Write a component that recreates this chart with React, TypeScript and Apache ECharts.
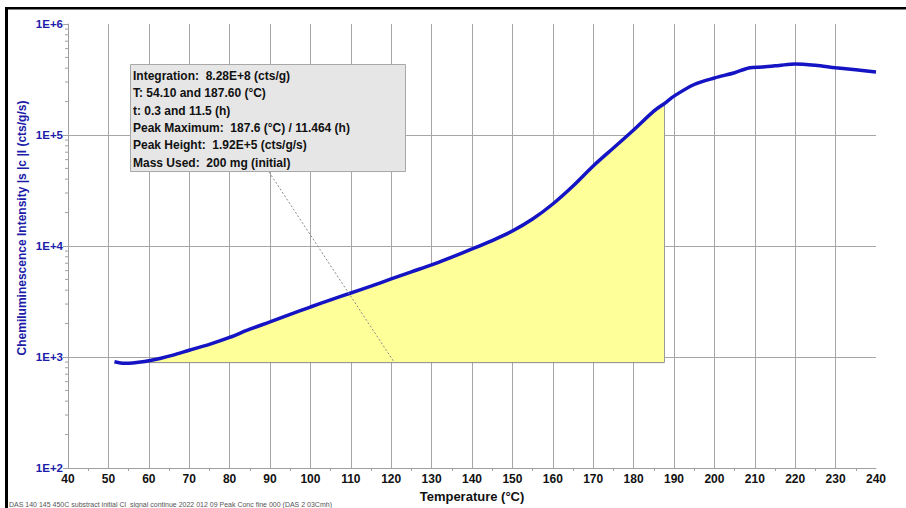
import React, { useEffect, useRef } from 'react';
import * as echarts from 'echarts';

// Curve: temperature (°C) vs chemiluminescence intensity (cts/g/s)
const temperature = [51.5, 53, 54.1, 56, 58, 60, 63, 66, 70, 75, 80, 85, 90, 95, 100, 105, 110, 115, 120, 125, 130, 135, 140, 145, 150, 155, 160, 165, 170, 175, 180, 185, 187.6, 190, 195, 200, 205, 208.5, 212, 216, 220, 225, 230, 235, 240];
const intensity = [905, 885, 880, 885, 900, 925, 975, 1040, 1150, 1300, 1500, 1780, 2070, 2420, 2820, 3270, 3770, 4350, 5050, 5850, 6750, 7950, 9400, 11200, 13650, 17500, 23900, 34700, 52600, 76400, 111000, 164000, 192000, 224000, 285000, 326000, 364000, 402000, 410000, 423000, 437000, 425000, 404000, 387000, 370000];

// Integration window and baseline
const integrationStart = 54.1;
const integrationEnd = 187.6;
const baselineValue = 890;
const peakHeight = 192000;

// Axis ticks
const xTicks = [40, 50, 60, 70, 80, 90, 100, 110, 120, 130, 140, 150, 160, 170, 180, 190, 200, 210, 220, 230, 240];
const yDecades = [100, 1000, 10000, 100000, 1000000];
const minorMultipliers = [2, 3, 4, 5, 6, 7, 8, 9];

const annotationLines = [
  'Integration:  8.28E+8 (cts/g)',
  'T: 54.10 and 187.60 (°C)',
  't: 0.3 and 11.5 (h)',
  'Peak Maximum:  187.6 (°C) / 11.464 (h)',
  'Peak Height:  1.92E+5 (cts/g/s)',
  'Mass Used:  200 mg (initial)',
];

const yAxisTitle = 'Chemiluminescence Intensity |s |c |l (cts/g/s)';
const xAxisTitle = 'Temperature (°C)';
const footerText = 'DAS 140 145 450C substract initial Cl  signal continue 2022 012 09 Peak Conc fine 000 (DAS 2 03Cmh)';

const FONT = '"Liberation Sans", Arial, sans-serif';
const BLUE = '#1c1ca8';
const AXIS_GREY = '#a0a0a0';

export default function App() {
  const ref = useRef<HTMLDivElement>(null);

  useEffect(() => {
    if (!ref.current) return;
    const chart = echarts.init(ref.current, undefined, { renderer: 'svg' });

    const curve = temperature.map((t, i) => [t, intensity[i]]);
    const fillPts = temperature
      .map((t, i) => [t, intensity[i]])
      .filter((p) => p[0] >= integrationStart && p[0] <= integrationEnd);

    const minorValues: number[][] = [];
    yDecades.slice(0, -1).forEach((d) => {
      minorMultipliers.forEach((m) => minorValues.push([xTicks[0], m * d]));
    });

    const graphics: any[] = [
      { type: 'rect', z: 50, shape: { x: 5, y: 7, width: 3, height: 501 }, style: { fill: '#000' } },
      { type: 'rect', z: 50, shape: { x: 5, y: 7, width: 901, height: 2.5 }, style: { fill: '#000' } },
      {
        type: 'line', z: 40,
        shape: { x1: 269, y1: 172, x2: 394, y2: 362 },
        style: { stroke: '#8a8a8a', lineWidth: 1, lineDash: [2, 2] },
      },
      {
        type: 'rect', z: 41,
        shape: { x: 130.5, y: 64.5, width: 275, height: 107 },
        style: { fill: '#e6e6e6', stroke: '#a8a8a8', lineWidth: 1 },
      },
      ...annotationLines.map((line, i) => ({
        type: 'text', z: 42,
        x: 133, y: 76 + i * 17.35,
        style: {
          text: line, fill: '#111', font: `bold 12px ${FONT}`,
          textAlign: 'left', textVerticalAlign: 'middle',
        },
      })),
      {
        type: 'text', z: 42,
        x: 22, y: 228, rotation: Math.PI / 2,
        style: {
          text: yAxisTitle, fill: BLUE, font: `bold 12px ${FONT}`,
          textAlign: 'center', textVerticalAlign: 'middle',
        },
      },
      {
        type: 'text', z: 42,
        x: 9, y: 504,
        style: {
          text: footerText, fill: '#555', font: `7px ${FONT}`,
          textAlign: 'left', textVerticalAlign: 'middle',
        },
      },
    ];

    chart.setOption({
      animation: false,
      backgroundColor: '#fff',
      grid: { left: 68, right: 30, top: 24, bottom: 40, containLabel: false },
      xAxis: {
        type: 'value',
        min: xTicks[0],
        max: xTicks[xTicks.length - 1],
        interval: 10,
        name: xAxisTitle,
        nameLocation: 'middle',
        nameGap: 20,
        nameTextStyle: { color: '#111', fontWeight: 'bold', fontSize: 13, fontFamily: FONT },
        axisLine: { show: true, lineStyle: { color: AXIS_GREY, width: 1 } },
        axisTick: { show: false },
        minorTick: { show: true, splitNumber: 2, length: 3, lineStyle: { color: AXIS_GREY } },
        axisLabel: { color: '#111', fontWeight: 'bold', fontSize: 12, fontFamily: FONT, margin: 5 },
        splitLine: { show: true, showMinLine: false, showMaxLine: false, lineStyle: { color: '#a6a6a6', width: 1 } },
      },
      yAxis: {
        type: 'log',
        logBase: 10,
        min: yDecades[0],
        max: yDecades[yDecades.length - 1],
        axisLine: { show: true, lineStyle: { color: AXIS_GREY, width: 1 } },
        axisTick: { show: true, length: 5, lineStyle: { color: AXIS_GREY } },
        axisLabel: {
          color: BLUE, fontWeight: 'bold', fontSize: 11.5, fontFamily: FONT, margin: 5,
          formatter: (v: number) => '1E+' + Math.round(Math.log10(v)),
        },
        splitLine: { show: true, showMinLine: false, showMaxLine: false, lineStyle: { color: '#a6a6a6', width: 1 } },
      },
      graphic: graphics,
      series: [
        {
          // yellow integrated area between baseline and curve
          type: 'custom',
          name: 'integral',
          data: fillPts,
          encode: { x: 0, y: 1 },
          z: 2,
          silent: true,
          renderItem: (params: any, api: any) => {
            if (params.dataIndex !== 0) return null;
            const top = fillPts.map((p) => api.coord(p));
            const bottomR = api.coord([integrationEnd, baselineValue]);
            const bottomL = api.coord([integrationStart, baselineValue]);
            return {
              type: 'polygon',
              shape: { points: [...top, bottomR, bottomL] },
              style: { fill: '#ffff99', stroke: 'none' },
            };
          },
        },
        {
          type: 'line',
          name: 'baseline',
          data: [[integrationStart, baselineValue], [integrationEnd, baselineValue]],
          symbol: 'none',
          lineStyle: { color: '#8c8c8c', width: 1 },
          z: 3,
          silent: true,
          markLine: {
            silent: true,
            symbol: 'none',
            label: { show: false },
            lineStyle: { color: '#9a9a9a', width: 1, type: 'solid' },
            data: [[{ coord: [integrationEnd, baselineValue] }, { coord: [integrationEnd, peakHeight] }]],
          },
        },
        {
          // log minor ticks on the y axis
          type: 'custom',
          name: 'minorTicks',
          data: minorValues,
          encode: { x: 0, y: 1 },
          z: 4,
          silent: true,
          clip: false,
          renderItem: (params: any, api: any) => {
            const p = api.coord([api.value(0), api.value(1)]);
            return {
              type: 'line',
              shape: { x1: p[0] - 3, y1: p[1], x2: p[0], y2: p[1] },
              style: { stroke: AXIS_GREY, lineWidth: 1 },
            };
          },
        },
        {
          type: 'line',
          name: 'intensity',
          data: curve,
          symbol: 'none',
          smooth: 0.3,
          lineStyle: { color: '#1414c4', width: 3.5 },
          z: 5,
          silent: true,
        },
      ],
    });

    return () => chart.dispose();
  }, []);

  return (
    <div
      ref={ref}
      style={{ position: 'fixed', left: 0, top: 0, width: 906, height: 508, background: '#fff' }}
    />
  );
}
